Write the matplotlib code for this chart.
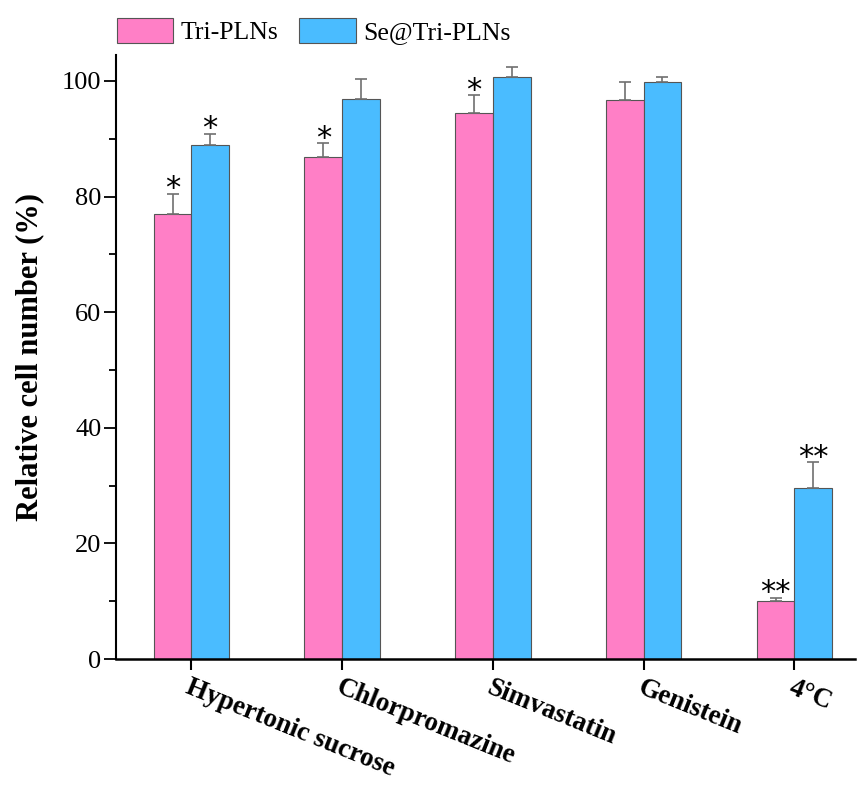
import numpy as np
import matplotlib.pyplot as plt
import matplotlib.transforms as mtransforms

plt.rcParams['font.family'] = ['Liberation Serif', 'DejaVu Serif']

groups = ['Hypertonic sucrose', 'Chlorpromazine', 'Simvastatin', 'Genistein', '4°C']
tri_mean = [77.0, 86.9, 94.5, 96.7, 10.1]
tri_err = [3.5, 2.3, 3.0, 3.2, 0.5]
se_mean = [89.0, 96.8, 100.6, 99.8, 29.5]
se_err = [1.9, 3.5, 1.8, 0.9, 4.5]
tri_sig = ['*', '*', '*', '', '**']
se_sig = ['*', '', '', '', '**']

pink = '#FF7FC6'
blue = '#4ABCFF'
w = 0.25

fig = plt.figure(figsize=(8.59, 7.85), dpi=100)
ax = fig.add_axes([0.135, 0.1605, 0.86, 0.7695])

x = np.arange(len(groups))
ekw = dict(ecolor='#707070', elinewidth=1.2, capsize=4.5, capthick=1.2)
ax.bar(x - w/2, tri_mean, w, yerr=[np.zeros(5), tri_err], color=pink,
       edgecolor='#555555', linewidth=0.8, error_kw=ekw, label='Tri-PLNs')
ax.bar(x + w/2, se_mean, w, yerr=[np.zeros(5), se_err], color=blue,
       edgecolor='#555555', linewidth=0.8, error_kw=ekw, label='Se@Tri-PLNs')

# significance marks just above the error bars
for i in range(len(groups)):
    if tri_sig[i]:
        ax.text(x[i] - w/2, tri_mean[i] + tri_err[i] - 0.6, tri_sig[i],
                ha='center', va='baseline', fontsize=22, family='DejaVu Sans')
    if se_sig[i]:
        ax.text(x[i] + w/2, se_mean[i] + se_err[i] - 0.6, se_sig[i],
                ha='center', va='baseline', fontsize=22, family='DejaVu Sans')

ax.set_xlim(-0.5, 4.4)
ax.set_ylim(0, 104.5)
ax.set_yticks([0, 20, 40, 60, 80, 100])
ax.set_yticks(np.arange(10, 101, 20), minor=True)
ax.set_xticks(x)
ax.set_xticklabels(groups, rotation=-22, ha='left', va='top',
                   rotation_mode='anchor', fontsize=19.5, fontweight='bold')
offset = mtransforms.ScaledTranslation(-0.17, -0.02, fig.dpi_scale_trans)
for lab in ax.get_xticklabels():
    lab.set_transform(lab.get_transform() + offset)

ax.tick_params(axis='y', which='major', direction='out', length=8.5, width=1.3,
               labelsize=19, pad=2)
ax.tick_params(axis='y', which='minor', direction='out', length=5, width=1.3)
ax.tick_params(axis='x', which='major', direction='out', length=8, width=1.5)

ax.spines['top'].set_visible(False)
ax.spines['right'].set_visible(False)
ax.spines['left'].set_linewidth(1.5)
ax.spines['bottom'].set_linewidth(1.8)

ax.set_ylabel('Relative cell number (%)', fontsize=22, fontweight='bold', labelpad=13)

ax.legend(loc='lower left', bbox_to_anchor=(0.001, 1.018), ncol=2, frameon=False,
          fontsize=18.5, handlelength=2.2, handleheight=1.1, handletextpad=0.3,
          columnspacing=0.8, borderpad=0, borderaxespad=0)

fig.savefig('out.png', dpi=100)
